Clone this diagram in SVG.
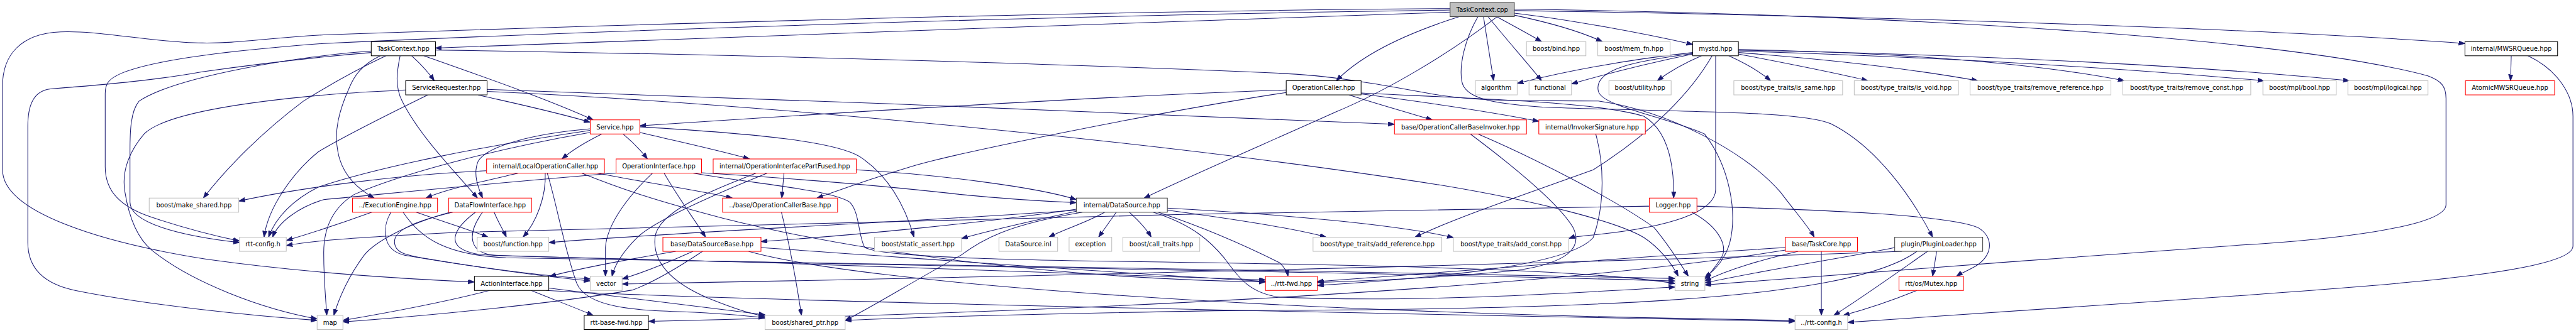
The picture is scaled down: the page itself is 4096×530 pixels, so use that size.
<svg xmlns="http://www.w3.org/2000/svg" width="4096" height="530" viewBox="0 0 4096 530">
<style>
.n rect{fill:#ffffff;stroke-width:1.3}
.k rect{stroke:#000000}
.d rect{stroke:#404040}
.r rect{stroke:#ff0000}
.g rect{stroke:#bfbfbf}
.root rect{fill:#bfbfbf;stroke:#404040}
text{font-family:"DejaVu Sans","Liberation Sans",sans-serif;font-size:12.44px;text-anchor:middle;fill:#000000}
#edges path{fill:none;stroke:#191970;stroke-width:1.3;marker-end:url(#ah)}
</style>
<defs>
<marker id="ah" markerUnits="userSpaceOnUse" markerWidth="14" markerHeight="10" refX="12.4" refY="4.4" orient="auto">
<path d="M0,0 L12.4,4.4 L0,8.8 z" fill="#191970" stroke="#191970" stroke-width="1"/>
</marker>
</defs>
<rect x="0" y="0" width="4096" height="530" fill="#ffffff"/>
<g transform="scale(0.80424)">
<g id="edges">
<path d="M2867,24 C2300,40 1400,78 861,95"/>
<path d="M2867,17 C2100,22 1200,50 640,69 C520,76 470,86 400,85 C300,84 200,60 120,63 C40,66 5,110 5,170 L5,336 C5,420 200,480 408,513 C600,540 800,552 938,558"/>
<path d="M2867,20 C2100,30 1200,60 640,86 C450,100 300,120 240,145 C215,156 208,165 208,185 L208,330 C208,380 240,410 300,430 C360,450 420,466 473.5,477"/>
<path d="M2960,33 C2860,110 2740,180 2640,222 C2500,285 2360,345 2262,392"/>
<path d="M2885,33 C2800,60 2700,100 2642,159.8"/>
<path d="M2933,33 L2953,159.8"/>
<path d="M2942,33 C2980,80 3020,125 3048,159.8"/>
<path d="M2959,33 C2990,50 3020,66 3048,82.4"/>
<path d="M2994,30 C3060,44 3120,60 3168,82.4"/>
<path d="M2994,26 C3100,38 3250,66 3346.7,88"/>
<path d="M2994,21 C3600,30 4400,52 4873.5,86"/>
<path d="M2994,18 C3700,28 4500,70 4800,150 C4828,160 4836,172 4836,195 L4836,405 C4836,450 4600,475 4430,485 C4100,510 3650,540 3370.7,564"/>
<path d="M2922,33 C2895,80 2885,130 2890,160 C2895,195 2950,205 3050,212 C3300,222 3560,218 3620,245 C3710,290 3780,390 3821,469.4"/>
<path d="M814,110.4 C830,125 845,140 858.6,159.8"/>
<path d="M838,110.4 C950,150 1080,195 1173,237.2"/>
<path d="M752,110.4 C715,128 700,150 690,175 C670,220 660,260 668,300 C675,340 700,370 740,392"/>
<path d="M791,110.4 C785,140 780,170 795,200 C830,270 900,340 944,392"/>
<path d="M763,110.4 C700,140 640,175 600,200 C520,260 450,330 402,392"/>
<path d="M734,101 C600,110 350,150 275,200 C258,220 257,260 257,300 L257,400 C257,440 350,466 473.5,480"/>
<path d="M734,104 C600,115 450,135 400,142 C300,160 200,168 100,176 C65,180 55,210 55,250 L55,480 C55,540 100,565 150,575 C300,605 500,625 627,634"/>
<path d="M861,99 C1500,108 2200,130 2530,145 C2650,150 2750,172 2850,189 C2950,203 3050,198 3160,200 C3300,220 3450,300 3520,380 C3550,420 3575,448 3587,469.4"/>
<path d="M945,187.8 C1020,205 1100,222 1167,242"/>
<path d="M846,187.8 C760,230 680,270 630,300 C580,340 530,410 522,469.4"/>
<path d="M802,178 C720,182 660,186 640,188 C450,205 320,230 285,265 C255,300 240,340 247,380 C255,430 270,470 300,495 C380,560 520,612 627,631"/>
<path d="M963,177 C1500,195 2300,225 2757,246"/>
<path d="M963,181 C1500,205 2300,280 2846,366 C3050,400 3200,440 3250,470 C3280,490 3305,520 3318,546.8"/>
<path d="M1190,265.2 C1160,280 1130,298 1111,314.6"/>
<path d="M1232,265.2 C1250,280 1265,295 1280,314.6"/>
<path d="M1265,262 C1340,280 1420,297 1482,314.6"/>
<path d="M1167,258 C950,290 750,330 630,370 C580,395 545,430 531,469.4"/>
<path d="M1167,255 C1050,265 960,290 945,320 C935,345 945,370 954,392"/>
<path d="M1265,251 C1500,265 1650,280 1700,310 C1760,350 1790,410 1807,469.4"/>
<path d="M1167,262 C950,300 780,350 700,385 C660,410 640,450 640,500 C640,560 645,600 646,624.2"/>
<path d="M1025,342.6 C950,360 880,375 842,392"/>
<path d="M1078,342.6 C1080,390 1060,440 1034,469.4"/>
<path d="M962,338 C800,345 600,370 472,398"/>
<path d="M1180,342.6 C1280,362 1390,378 1448,392"/>
<path d="M1082,342.6 C1100,400 1115,490 1140,560 C1160,610 1260,614 1350,617 C1420,620 1470,624 1512.6,629"/>
<path d="M1150,342.6 C1230,375 1300,398 1430,432 C1700,500 2100,552 2502,558"/>
<path d="M1313,342.6 C1340,390 1370,430 1395,469.4"/>
<path d="M1290,342.6 C1250,380 1200,440 1197,490 L1197,546.8"/>
<path d="M1218,342.6 C1000,360 800,380 640,395 C590,410 550,440 539,469.4"/>
<path d="M1370,342.6 C1500,365 1640,375 1680,400 C1700,420 1697,470 1710,490 C1750,510 2000,515 2400,520 C2800,527 3150,535 3311.7,561"/>
<path d="M1387,342 C1550,352 1750,368 1900,385 C2000,395 2080,399 2128,401"/>
<path d="M1550,342.6 L1545.7,392"/>
<path d="M1495,342.6 C1400,380 1300,420 1295,470 C1290,520 1330,560 1400,590 C1450,610 1480,620 1512.6,626"/>
<path d="M1517,342.6 C1400,390 1290,440 1260,470 C1230,500 1215,525 1210,546.8"/>
<path d="M1693,336 C1850,345 2050,370 2128,395"/>
<path d="M823,420 C880,440 930,455 965,469.4"/>
<path d="M735,420 C680,440 620,460 566,476"/>
<path d="M773,420 C755,450 755,495 800,505 C900,522 1050,545 1167,552"/>
<path d="M797,420 C830,470 880,505 1000,510 C1500,522 2500,532 3311.7,551"/>
<path d="M977,420 C985,440 995,455 1001,469.4"/>
<path d="M890,420 C800,445 740,480 720,505 C690,545 670,590 660,624.2"/>
<path d="M895,420 C820,438 780,455 780,478 C780,500 800,505 850,513 C950,530 1080,548 1167,556"/>
<path d="M940,420 C900,450 870,492 950,504 C1400,522 2500,533 3311.7,556"/>
<path d="M954,420 C925,460 920,505 990,506 C1500,518 2200,540 2502,554"/>
<path d="M968,574.8 C870,600 760,620 678,634"/>
<path d="M1050,574.8 C1100,595 1140,610 1173,624.2"/>
<path d="M1085,570 C1250,590 1400,608 1512.6,623"/>
<path d="M1080,574.8 C1400,595 2800,622 3549,636"/>
<path d="M1389,497.4 C1340,530 1290,560 1250,574 C1100,600 850,625 678,637"/>
<path d="M1370,497.4 C1320,520 1270,540 1230,552"/>
<path d="M1336,497.4 C1250,512 1150,530 1087,546.8"/>
<path d="M1504.5,490 C1800,510 2200,540 2502,557"/>
<path d="M1480,497.4 C1700,560 2500,620 3549,634"/>
<path d="M1545,420 C1560,480 1575,560 1584.5,624.2"/>
<path d="M2184,420 C2150,440 2100,455 2073.7,469.4"/>
<path d="M2207,420 L2172,469.4"/>
<path d="M2233,420 C2255,440 2268,455 2276,469.4"/>
<path d="M2128,414 C1950,440 1700,465 1504.5,478"/>
<path d="M2128,418 C2050,435 1960,455 1901,472"/>
<path d="M2128,416 C1800,440 1400,455 1085,480"/>
<path d="M2140,420 C1990,445 1940,475 1900,505 C1800,560 1720,610 1671,634"/>
<path d="M2290,420 C2380,450 2470,490 2530,520 C2540,530 2545,538 2546.5,546.8"/>
<path d="M2280,420 C2360,445 2395,480 2420,510 C2450,550 2470,580 2530,588 C2800,600 3100,580 3311.7,568"/>
<path d="M2308,416 C2450,435 2560,452 2622,469.4"/>
<path d="M2308,412 C2550,425 2760,445 2873.5,470"/>
<path d="M2667,187.8 C2720,205 2780,222 2832,237.2"/>
<path d="M2691,186 C2800,200 2950,222 3042.4,240"/>
<path d="M2543,178 C2200,190 1700,220 1265,249"/>
<path d="M2543,183 C2300,220 1900,300 1800,330 C1700,360 1650,380 1615,392"/>
<path d="M2691,184 C2900,195 3150,200 3250,230 C3300,260 3310,330 3309,392"/>
<path d="M2907,265.2 C2980,320 3080,400 3110,450 C3130,490 3100,520 3000,535 C2850,550 2700,556 2604.5,559"/>
<path d="M2922,265.2 C3050,320 3200,400 3270,450 C3295,480 3315,510 3338,546.8"/>
<path d="M3155,265.2 C3170,320 3175,400 3150,470 C3100,530 2800,552 2604.5,565"/>
<path d="M3364,110.4 C3330,125 3300,142 3276.5,159.8"/>
<path d="M3418,110.4 C3450,125 3480,142 3501,159.8"/>
<path d="M3437,107 C3530,125 3620,142 3693,159.8"/>
<path d="M3437,104 C3650,120 3800,140 3910.5,159.8"/>
<path d="M3437,98 C3800,105 4050,130 4200,159.8"/>
<path d="M3437,101 C3900,115 4250,140 4476,159.8"/>
<path d="M3437,99.5 C3950,108 4400,135 4645,159.8"/>
<path d="M3346.7,104 C3200,120 3080,145 2999.6,165"/>
<path d="M3346.7,107 C3260,125 3180,145 3107,166"/>
<path d="M3385,110.4 C3345,180 3270,260 3150,336 C3000,390 2880,430 2797.5,469.4"/>
<path d="M3392,110.4 L3392,375 C3392,420 3300,450 3150,465 C3125,467 3110,469 3101.6,472"/>
<path d="M3346.7,106 C3240,120 3150,135 3160,180 C3165,210 3290,230 3370,265 C3420,330 3435,420 3420,480 C3410,515 3390,535 3370.7,549"/>
<path d="M3345,420 C3400,450 3420,490 3400,515 C3390,530 3380,542 3370.7,553"/>
<path d="M3355,408 C3600,415 3850,425 3910,450 C3945,470 3940,510 3900,530 C3885,538 3875,542 3868,546.8"/>
<path d="M3261,408 C2500,420 1500,440 900,460 C700,470 620,476 566,486"/>
<path d="M3601,497.4 L3601,624.2"/>
<path d="M3555,497.4 C3480,515 3420,532 3370.7,556"/>
<path d="M3530,490 C3200,510 2850,540 2604.5,557"/>
<path d="M3530,495 C3000,580 2000,620 1282,636"/>
<path d="M3829,497.4 L3821,546.8"/>
<path d="M3811,497.4 C3750,540 3680,590 3625.5,624.2"/>
<path d="M3746,490 C3650,510 3500,532 3370.7,560"/>
<path d="M3760,497.4 C3000,525 1800,552 1230,562"/>
<path d="M3790,497.4 C3650,600 3100,612 2400,615 C2000,622 1800,628 1671,634"/>
<path d="M3790,574.8 C3740,595 3690,612 3644,624.2"/>
<path d="M4965,110.4 L4963.6,159.8"/>
<path d="M4998,110.4 C5060,140 5087,190 5087,230 L5087,487 C5087,540 4700,565 4430,585 C4100,608 3800,628 3653,638"/>
</g>
<g id="nodes">
<g id="n_taskcontext_cpp" class="n root"><rect x="2867" y="5" width="127" height="28"/><text x="2930.5" y="23.4">TaskContext.cpp</text></g>
<g id="n_taskcontext_hpp" class="n k"><rect x="734" y="82.4" width="127" height="28"/><text x="797.5" y="100.8">TaskContext.hpp</text></g>
<g id="n_servicerequester" class="n k"><rect x="802" y="159.8" width="161" height="28"/><text x="882.5" y="178.2">ServiceRequester.hpp</text></g>
<g id="n_service" class="n r"><rect x="1167" y="237.2" width="98" height="28"/><text x="1216" y="255.6">Service.hpp</text></g>
<g id="n_localopcaller" class="n r"><rect x="962" y="314.6" width="233" height="28"/><text x="1078.5" y="333">internal/LocalOperationCaller.hpp</text></g>
<g id="n_opinterface" class="n r"><rect x="1218" y="314.6" width="169" height="28"/><text x="1302.5" y="333">OperationInterface.hpp</text></g>
<g id="n_opintpartfused" class="n r"><rect x="1410" y="314.6" width="283" height="28"/><text x="1551.5" y="333">internal/OperationInterfacePartFused.hpp</text></g>
<g id="n_executionengine" class="n r"><rect x="697" y="392" width="168" height="28"/><text x="781" y="410.4">../ExecutionEngine.hpp</text></g>
<g id="n_dataflowinterface" class="n r"><rect x="887" y="392" width="164" height="28"/><text x="969" y="410.4">DataFlowInterface.hpp</text></g>
<g id="n_opcallerbase" class="n r"><rect x="1428.6" y="392" width="227.4" height="28"/><text x="1542.3" y="410.4">../base/OperationCallerBase.hpp</text></g>
<g id="n_make_shared" class="n g"><rect x="295" y="392" width="177" height="28"/><text x="383.5" y="410.4">boost/make_shared.hpp</text></g>
<g id="n_datasource" class="n d"><rect x="2128" y="392" width="180" height="28"/><text x="2218" y="410.4">internal/DataSource.hpp</text></g>
<g id="n_logger" class="n r"><rect x="3261" y="392" width="94" height="28"/><text x="3308" y="410.4">Logger.hpp</text></g>
<g id="n_rttconfig" class="n g"><rect x="473.5" y="469.4" width="92.5" height="28"/><text x="519.75" y="487.8">rtt-config.h</text></g>
<g id="n_function" class="n g"><rect x="943.5" y="469.4" width="141.5" height="28"/><text x="1014.25" y="487.8">boost/function.hpp</text></g>
<g id="n_datasourcebase" class="n r"><rect x="1310.6" y="469.4" width="193.9" height="28"/><text x="1407.55" y="487.8">base/DataSourceBase.hpp</text></g>
<g id="n_static_assert" class="n g"><rect x="1729" y="469.4" width="172" height="28"/><text x="1815" y="487.8">boost/static_assert.hpp</text></g>
<g id="n_datasource_inl" class="n g"><rect x="1975" y="469.4" width="116" height="28"/><text x="2033" y="487.8">DataSource.inl</text></g>
<g id="n_exception" class="n g"><rect x="2113.7" y="469.4" width="84.3" height="28"/><text x="2155.85" y="487.8">exception</text></g>
<g id="n_call_traits" class="n g"><rect x="2220" y="469.4" width="152" height="28"/><text x="2296" y="487.8">boost/call_traits.hpp</text></g>
<g id="n_add_reference" class="n g"><rect x="2596" y="469.4" width="254.6" height="28"/><text x="2723.3" y="487.8">boost/type_traits/add_reference.hpp</text></g>
<g id="n_add_const" class="n g"><rect x="2873.5" y="469.4" width="228.1" height="28"/><text x="2987.55" y="487.8">boost/type_traits/add_const.hpp</text></g>
<g id="n_taskcore" class="n r"><rect x="3530" y="469.4" width="142.4" height="28"/><text x="3601.2" y="487.8">base/TaskCore.hpp</text></g>
<g id="n_pluginloader" class="n d"><rect x="3746" y="469.4" width="174" height="28"/><text x="3833" y="487.8">plugin/PluginLoader.hpp</text></g>
<g id="n_actioninterface" class="n k"><rect x="938" y="546.8" width="147" height="28"/><text x="1011.5" y="565.2">ActionInterface.hpp</text></g>
<g id="n_vector" class="n g"><rect x="1167" y="546.8" width="63" height="28"/><text x="1198.5" y="565.2">vector</text></g>
<g id="n_rttfwd" class="n r"><rect x="2502" y="546.8" width="102.5" height="28"/><text x="2553.25" y="565.2">../rtt-fwd.hpp</text></g>
<g id="n_string" class="n g"><rect x="3311.7" y="546.8" width="59" height="28"/><text x="3341.2" y="565.2">string</text></g>
<g id="n_mutex" class="n r"><rect x="3754.5" y="546.8" width="127.5" height="28"/><text x="3818.25" y="565.2">rtt/os/Mutex.hpp</text></g>
<g id="n_map" class="n g"><rect x="627" y="624.2" width="51" height="28"/><text x="652.5" y="642.6">map</text></g>
<g id="n_rttbasefwd" class="n k"><rect x="1155" y="624.2" width="127" height="28"/><text x="1218.5" y="642.6">rtt-base-fwd.hpp</text></g>
<g id="n_shared_ptr" class="n g"><rect x="1512.6" y="624.2" width="158.4" height="28"/><text x="1591.8" y="642.6">boost/shared_ptr.hpp</text></g>
<g id="n_rttconfig2" class="n g"><rect x="3549" y="624.2" width="104" height="28"/><text x="3601" y="642.6">../rtt-config.h</text></g>
<g id="n_operationcaller" class="n k"><rect x="2543" y="159.8" width="148" height="28"/><text x="2617" y="178.2">OperationCaller.hpp</text></g>
<g id="n_opcallerbaseinvoker" class="n r"><rect x="2757" y="237.2" width="261" height="28"/><text x="2887.5" y="255.6">base/OperationCallerBaseInvoker.hpp</text></g>
<g id="n_invokersignature" class="n r"><rect x="3042.4" y="237.2" width="210.6" height="28"/><text x="3147.7" y="255.6">internal/InvokerSignature.hpp</text></g>
<g id="n_bind" class="n g"><rect x="3018" y="82.4" width="117.5" height="28"/><text x="3076.75" y="100.8">boost/bind.hpp</text></g>
<g id="n_mem_fn" class="n g"><rect x="3159" y="82.4" width="143" height="28"/><text x="3230.5" y="100.8">boost/mem_fn.hpp</text></g>
<g id="n_mystd" class="n k"><rect x="3346.7" y="82.4" width="90.3" height="28"/><text x="3391.85" y="100.8">mystd.hpp</text></g>
<g id="n_mwsrqueue" class="n k"><rect x="4873.5" y="82.4" width="183.1" height="28"/><text x="4965.05" y="100.8">internal/MWSRQueue.hpp</text></g>
<g id="n_algorithm" class="n g"><rect x="2917" y="159.8" width="82.6" height="28"/><text x="2958.3" y="178.2">algorithm</text></g>
<g id="n_functional" class="n g"><rect x="3023" y="159.8" width="84" height="28"/><text x="3065" y="178.2">functional</text></g>
<g id="n_utility" class="n g"><rect x="3181" y="159.8" width="123" height="28"/><text x="3242.5" y="178.2">boost/utility.hpp</text></g>
<g id="n_is_same" class="n g"><rect x="3428" y="159.8" width="215" height="28"/><text x="3535.5" y="178.2">boost/type_traits/is_same.hpp</text></g>
<g id="n_is_void" class="n g"><rect x="3666" y="159.8" width="206" height="28"/><text x="3769" y="178.2">boost/type_traits/is_void.hpp</text></g>
<g id="n_remove_reference" class="n g"><rect x="3895" y="159.8" width="278.5" height="28"/><text x="4034.25" y="178.2">boost/type_traits/remove_reference.hpp</text></g>
<g id="n_remove_const" class="n g"><rect x="4197" y="159.8" width="253" height="28"/><text x="4323.5" y="178.2">boost/type_traits/remove_const.hpp</text></g>
<g id="n_mpl_bool" class="n g"><rect x="4474" y="159.8" width="145" height="28"/><text x="4546.5" y="178.2">boost/mpl/bool.hpp</text></g>
<g id="n_mpl_logical" class="n g"><rect x="4642" y="159.8" width="158.4" height="28"/><text x="4721.2" y="178.2">boost/mpl/logical.hpp</text></g>
<g id="n_atomicmwsrqueue" class="n r"><rect x="4874.4" y="159.8" width="176.3" height="28"/><text x="4962.55" y="178.2">AtomicMWSRQueue.hpp</text></g>
</g>
</g>
</svg>
